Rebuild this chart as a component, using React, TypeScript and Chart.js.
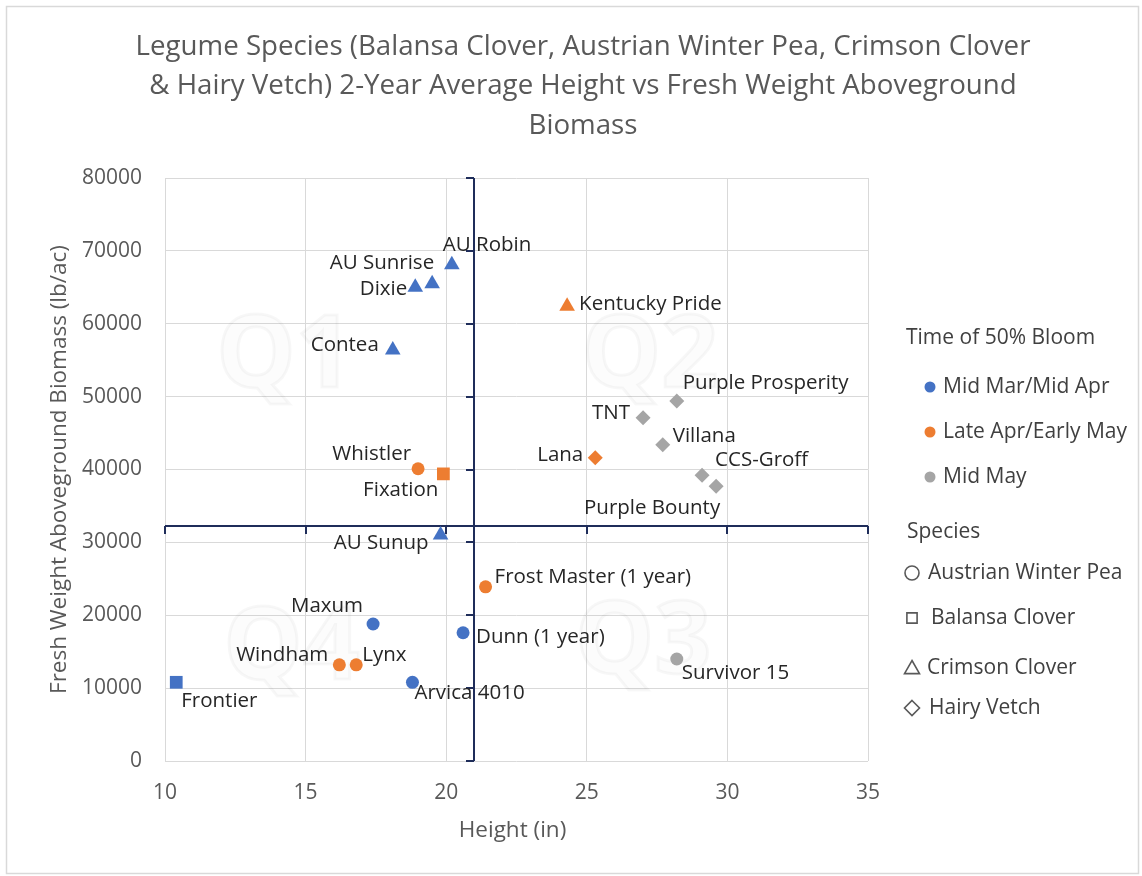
import React, { useEffect, useRef } from "react";
import { Chart, registerables } from "chart.js";

Chart.register(...registerables);

// ---------- data ----------
const titleLines = [
  "Legume Species (Balansa Clover, Austrian Winter Pea, Crimson Clover",
  "& Hairy Vetch) 2-Year Average Height vs Fresh Weight Aboveground",
  "Biomass",
];
const xAxisTitle = "Height (in)";
const yAxisTitle = "Fresh Weight Aboveground Biomass (lb/ac)";

const varieties = [
  "AU Robin", "AU Sunrise", "Dixie", "Contea", "AU Sunup",
  "Whistler", "Fixation", "Kentucky Pride", "Lana",
  "Purple Prosperity", "TNT", "Villana", "CCS-Groff", "Purple Bounty",
  "Frost Master (1 year)", "Maxum", "Dunn (1 year)", "Windham", "Lynx",
  "Arvica 4010", "Frontier", "Survivor 15",
];
const heightIn = [
  20.2, 19.5, 18.9, 18.1, 19.8,
  19.0, 19.9, 24.3, 25.3,
  28.2, 27.0, 27.7, 29.1, 29.6,
  21.4, 17.4, 20.6, 16.2, 16.8,
  18.8, 10.4, 28.2,
];
const biomassLbAc = [
  68100, 65500, 65000, 56400, 31000,
  40100, 39400, 62400, 41600,
  49400, 47100, 43400, 39200, 37700,
  23900, 18800, 17600, 13200, 13200,
  10800, 10800, 14000,
];
// 0 = Mid Mar/Mid Apr, 1 = Late Apr/Early May, 2 = Mid May
const bloomIndex = [
  0, 0, 0, 0, 0,
  1, 1, 1, 1,
  2, 2, 2, 2, 2,
  1, 0, 0, 1, 1,
  0, 0, 2,
];
// 0 = Austrian Winter Pea, 1 = Balansa Clover, 2 = Crimson Clover, 3 = Hairy Vetch
const speciesIndex = [
  2, 2, 2, 2, 2,
  0, 1, 2, 3,
  3, 3, 3, 3, 3,
  0, 0, 0, 0, 0,
  0, 1, 0,
];
const bloomLabels = ["Mid Mar/Mid Apr", "Late Apr/Early May", "Mid May"];
const speciesLabels = ["Austrian Winter Pea", "Balansa Clover", "Crimson Clover", "Hairy Vetch"];
const bloomLegendTitle = "Time of 50% Bloom";
const speciesLegendTitle = "Species";
const quadrantNames = ["Q1", "Q2", "Q4", "Q3"];
const quadrantCrossX = 21.0;
const quadrantCrossY = 32300;

// ---------- styles ----------
const FONT = "'Open Sans', 'Noto Sans', sans-serif";
const BLOOM_COLORS = ["#4472C4", "#ED7D31", "#A5A5A5"];
const SPECIES_STYLES = ["circle", "rect", "triangle", "rectRot"];
const SPECIES_RADIUS = [6.5, 9, 9, 7.5];
// label offsets (dx, dy, align) relative to each point
const LABEL_PLACE: [number, number, CanvasTextAlign][] = [
  [-9, -20, "left"], [2, -21, "right"], [-8, 2, "right"], [-14, -5, "right"], [-12, 8, "right"],
  [-7, -15, "right"], [-5, 16, "right"], [12, -2, "left"], [-12, -3, "right"],
  [6, -18, "left"], [-13, -5, "right"], [10, -9, "left"], [13, -15, "left"], [4, 22, "right"],
  [9, -10, "left"], [-10, -18, "right"], [13, 4, "left"], [-11, -10, "right"], [6, -10, "left"],
  [2, 11, "left"], [5, 19, "left"], [5, 14, "left"],
];
// watermark placement as fractions of the plot area
const WATERMARK_POS = [[0.17, 0.31], [0.69, 0.31], [0.18, 0.81], [0.68, 0.8]];

function drawShape(ctx: CanvasRenderingContext2D, kind: number, x: number, y: number, s: number) {
  ctx.beginPath();
  if (kind === 0) {
    ctx.arc(x, y, s, 0, Math.PI * 2);
  } else if (kind === 1) {
    ctx.rect(x - s * 0.85, y - s * 0.85, s * 1.7, s * 1.7);
  } else if (kind === 2) {
    ctx.moveTo(x, y - s);
    ctx.lineTo(x + s * 1.0, y + s * 0.75);
    ctx.lineTo(x - s * 1.0, y + s * 0.75);
    ctx.closePath();
  } else {
    ctx.moveTo(x, y - s);
    ctx.lineTo(x + s, y);
    ctx.lineTo(x, y + s);
    ctx.lineTo(x - s, y);
    ctx.closePath();
  }
}

const decorPlugin = {
  id: "decor",
  beforeDraw(chart: any) {
    const ctx: CanvasRenderingContext2D = chart.ctx;
    ctx.save();
    ctx.fillStyle = "#ffffff";
    ctx.fillRect(0, 0, chart.width, chart.height);
    ctx.strokeStyle = "#D9D9D9";
    ctx.lineWidth = 1.5;
    ctx.strokeRect(6.5, 6.5, chart.width - 10, chart.height - 9);

    // title
    ctx.fillStyle = "#595959";
    ctx.font = `27.7px ${FONT}`;
    ctx.textAlign = "center";
    ctx.textBaseline = "middle";
    titleLines.forEach((t, i) => ctx.fillText(t, 583, 47 + i * 39.5));

    // axis titles
    const a = chart.chartArea;
    ctx.font = `22.5px ${FONT}`;
    ctx.fillText(xAxisTitle, (a.left + a.right) / 2 - 4, 831);
    ctx.save();
    ctx.translate(60, (a.top + a.bottom) / 2);
    ctx.rotate(-Math.PI / 2);
    ctx.fillText(yAxisTitle, 0, 0);
    ctx.restore();

    // legend
    ctx.textAlign = "left";
    ctx.fillStyle = "#404040";
    ctx.font = `21px ${FONT}`;
    ctx.fillText(bloomLegendTitle, 906, 338);
    bloomLabels.forEach((t, i) => {
      const y = 387 + i * 45;
      ctx.fillStyle = BLOOM_COLORS[i];
      ctx.beginPath();
      ctx.arc(930, y, 5.5, 0, Math.PI * 2);
      ctx.fill();
      ctx.fillStyle = "#404040";
      ctx.fillText(t, 943, y);
    });
    ctx.fillText(speciesLegendTitle, 907, 532);
    const sy = [573, 618, 668, 708];
    const sx = [928, 931, 927, 929];
    speciesLabels.forEach((t, i) => {
      ctx.strokeStyle = "#595959";
      ctx.lineWidth = 1.6;
      drawShape(ctx, i, 912, sy[i], i === 0 ? 7 : i === 1 ? 6 : 7.5);
      ctx.stroke();
      ctx.fillStyle = "#404040";
      ctx.fillText(t, sx[i], sy[i]);
    });
    ctx.restore();
  },
  beforeDatasetsDraw(chart: any) {
    const ctx: CanvasRenderingContext2D = chart.ctx;
    const a = chart.chartArea;
    const xs = chart.scales.x;
    const ys = chart.scales.y;
    ctx.save();
    // watermarks
    ctx.font = `bold 100px ${FONT}`;
    ctx.textAlign = "center";
    ctx.textBaseline = "middle";
    ctx.fillStyle = "rgba(0,0,0,0.012)";
    ctx.strokeStyle = "rgba(0,0,0,0.03)";
    ctx.lineWidth = 3;
    quadrantNames.forEach((q, i) => {
      const px = a.left + WATERMARK_POS[i][0] * (a.right - a.left);
      const py = a.top + WATERMARK_POS[i][1] * (a.bottom - a.top);
      ctx.fillText(q, px, py);
      ctx.strokeText(q, px, py);
    });
    // quadrant axes
    const qx = Math.round(xs.getPixelForValue(quadrantCrossX));
    const qy = Math.round(ys.getPixelForValue(quadrantCrossY));
    ctx.strokeStyle = "#1F2D5A";
    ctx.lineWidth = 2;
    ctx.beginPath();
    ctx.moveTo(qx, ys.top);
    ctx.lineTo(qx, ys.bottom);
    ctx.moveTo(xs.left, qy);
    ctx.lineTo(xs.right, qy);
    ys.ticks.forEach((t: any) => {
      const y = Math.round(ys.getPixelForValue(t.value));
      ctx.moveTo(qx - 8, y);
      ctx.lineTo(qx, y);
    });
    xs.ticks.forEach((t: any) => {
      const x = Math.round(xs.getPixelForValue(t.value));
      ctx.moveTo(x, qy);
      ctx.lineTo(x, qy + 8);
    });
    ctx.stroke();
    ctx.restore();
  },
  afterDatasetsDraw(chart: any) {
    const ctx: CanvasRenderingContext2D = chart.ctx;
    const meta = chart.getDatasetMeta(0);
    ctx.save();
    ctx.font = `20.5px ${FONT}`;
    ctx.fillStyle = "#262626";
    ctx.textBaseline = "middle";
    meta.data.forEach((pt: any, i: number) => {
      const [dx, dy, align] = LABEL_PLACE[i];
      ctx.textAlign = align;
      ctx.fillText(varieties[i], pt.x + dx, pt.y + dy);
    });
    ctx.restore();
  },
};

export default function App() {
  const ref = useRef<HTMLCanvasElement>(null);
  useEffect(() => {
    const canvas = ref.current;
    if (!canvas) return;
    Chart.defaults.font.family = FONT;
    const chart = new Chart(canvas, {
      type: "scatter",
      data: {
        datasets: [
          {
            label: "Varieties",
            data: heightIn.map((h, i) => ({ x: h, y: biomassLbAc[i] })),
            pointStyle: (c: any) => SPECIES_STYLES[speciesIndex[c.dataIndex]] as any,
            pointRadius: (c: any) => SPECIES_RADIUS[speciesIndex[c.dataIndex]],
            backgroundColor: (c: any) => BLOOM_COLORS[bloomIndex[c.dataIndex]],
            borderColor: (c: any) => BLOOM_COLORS[bloomIndex[c.dataIndex]],
            borderWidth: 0,
          },
        ],
      },
      options: {
        responsive: false,
        animation: false,
        events: [],
        layout: { padding: { left: 0, top: 178, right: 274, bottom: 0 } },
        plugins: {
          legend: { display: false },
          title: { display: false },
          tooltip: { enabled: false },
        },
        scales: {
          x: {
            type: "linear",
            min: 10,
            max: 35,
            afterFit: (s: any) => {
              s.height = 115;
            },
            ticks: { stepSize: 5, color: "#595959", font: { size: 21 }, padding: 19 },
            grid: { color: "#D9D9D9", drawTicks: false, lineWidth: 1 },
            border: { display: false },
          },
          y: {
            type: "linear",
            min: 0,
            max: 80000,
            afterFit: (s: any) => {
              s.width = 165;
            },
            ticks: {
              stepSize: 10000,
              color: "#595959",
              font: { size: 21 },
              padding: 23,
              callback: (v: any) => String(v),
            },
            grid: { color: "#D9D9D9", drawTicks: false, lineWidth: 1 },
            border: { display: false },
          },
        },
      },
      plugins: [decorPlugin],
    });
    return () => chart.destroy();
  }, []);
  return (
    <div style={{ position: "absolute", left: 0, top: 0, width: 1142, height: 876, background: "#fff" }}>
      <canvas ref={ref} width={1142} height={876} style={{ display: "block", width: 1142, height: 876 }} />
    </div>
  );
}
